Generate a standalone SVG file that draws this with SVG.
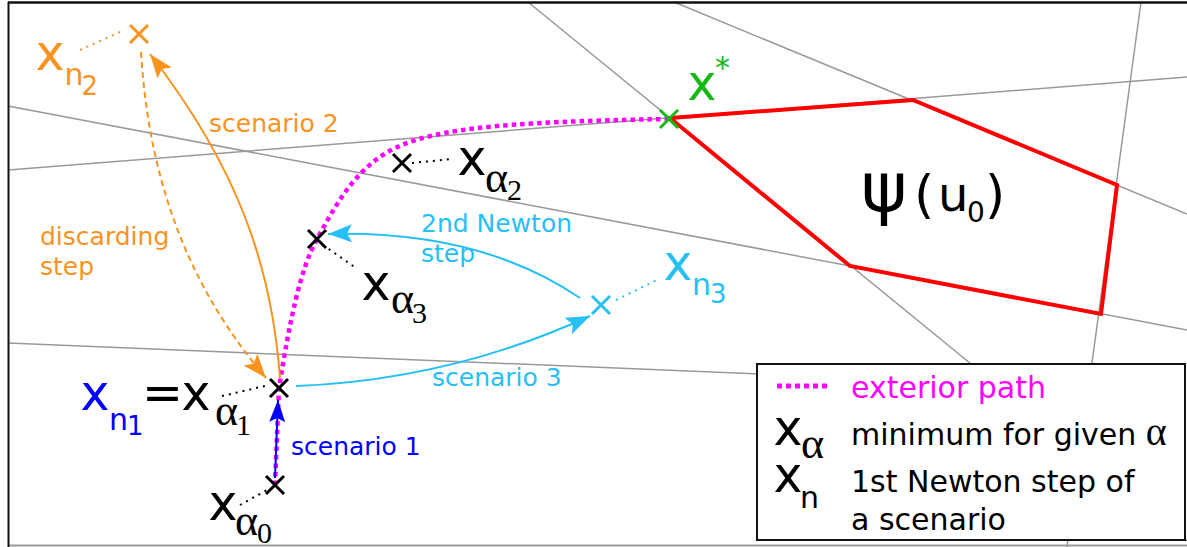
<svg xmlns="http://www.w3.org/2000/svg" width="1187" height="547" viewBox="0 0 1187 547">
<style>
.g{stroke:#999;stroke-width:1.5;fill:none}
.t{font-family:"DejaVu Sans",sans-serif}
.s{font-family:"Liberation Serif","DejaVu Serif",serif}
.big{font-size:49px}
.sub{font-size:30px}
.ssub{font-size:26px}
.al{font-size:44px}
.lab{font-size:25px}
.leg{font-size:30px}
.cr{stroke-width:3;fill:none}
.lead{stroke-width:2;stroke-dasharray:2 5;fill:none}
</style>
<defs>
<marker id="ao" markerUnits="userSpaceOnUse" markerWidth="26" markerHeight="20" refX="24" refY="9" orient="auto"><path d="M0,0 L24,9 L0,18 L5,9 Z" fill="#f7931e"/></marker>
<marker id="ac" markerUnits="userSpaceOnUse" markerWidth="26" markerHeight="20" refX="24" refY="9" orient="auto"><path d="M0,0 L24,9 L0,18 L5,9 Z" fill="#27c0f4"/></marker>
<marker id="ab" markerUnits="userSpaceOnUse" markerWidth="24" markerHeight="18" refX="22" refY="8" orient="auto"><path d="M0,0 L22,8 L0,16 L4,8 Z" fill="#0000ff"/></marker>
</defs>
<rect width="1187" height="547" fill="#fff"/>
<g id="grid">
<line class="g" x1="528" y1="2" x2="1195" y2="547"/>
<line class="g" x1="674" y1="2" x2="1187" y2="214"/>
<line class="g" x1="1141" y1="2" x2="1067" y2="547"/>
<line class="g" x1="8" y1="170" x2="1187" y2="77"/>
<line class="g" x1="8" y1="106" x2="1187" y2="330"/>
<line class="g" x1="8" y1="343" x2="760" y2="374"/>
<line x1="8" y1="545.5" x2="1187" y2="545.5" stroke="#999" stroke-width="2"/>
<line x1="8" y1="2.5" x2="1187" y2="2.5" stroke="#111" stroke-width="2.5"/>
<line x1="8.5" y1="2" x2="8.5" y2="547" stroke="#111" stroke-width="2"/>
</g>
<g id="psi">
<polygon points="670,118 913,100 1117,185 1101,314 850,266" fill="none" stroke="#ff0000" stroke-width="4"/>
<text class="t" x="861" y="212" font-size="70">ψ</text>
<text class="t" x="914" y="212" font-size="52">(</text>
<text class="t" x="938" y="211" font-size="48">u</text>
<text class="t" x="967" y="222" font-size="28">0</text>
<text class="t" x="985" y="212" font-size="52">)</text>
</g>
<g id="connectors">
<path d="M275,485 L279,388 C290,320 300,270 317,239 C334,208 351,177 380,157 C420,128 500,122 669,119" fill="none" stroke="#ff00ff" stroke-width="4.5" stroke-dasharray="4.5 4"/>
<path d="M280,378 C272,270 240,170 150,54" fill="none" stroke="#f7931e" stroke-width="2" marker-end="url(#ao)"/>
<path d="M141,52 C150,200 200,300 266,378" fill="none" stroke="#f7931e" stroke-width="2" stroke-dasharray="6 4" marker-end="url(#ao)"/>
<path d="M275,478 L278,400" fill="none" stroke="#0000ff" stroke-width="2" marker-end="url(#ab)"/>
<path d="M296,386 Q450,380 590,316" fill="none" stroke="#27c0f4" stroke-width="2" marker-end="url(#ac)"/>
<path d="M580,298 Q480,230 328,234" fill="none" stroke="#27c0f4" stroke-width="2" marker-end="url(#ac)"/>
<line class="lead" x1="80" y1="50" x2="120" y2="32" stroke="#f7931e"/>
<line class="lead" x1="616" y1="300" x2="657" y2="280" stroke="#27c0f4"/>
<line class="lead" x1="412" y1="163" x2="452" y2="159" stroke="#000"/>
<line class="lead" x1="323" y1="245" x2="356" y2="268" stroke="#000"/>
<line class="lead" x1="222" y1="396" x2="269" y2="385" stroke="#000"/>
<line class="lead" x1="240" y1="505" x2="267" y2="490" stroke="#000"/>
</g>
<g id="labels">
<text class="t lab" x="209" y="132" fill="#f7931e">scenario 2</text>
<text class="t lab" x="40" y="245" fill="#f7931e">discarding</text>
<text class="t lab" x="40" y="275" fill="#f7931e">step</text>
<text class="t lab" x="291" y="455" fill="#0000ff">scenario 1</text>
<text class="t lab" x="421" y="232" fill="#27c0f4">2nd Newton</text>
<text class="t lab" x="421" y="262" fill="#27c0f4">step</text>
<text class="t lab" x="432" y="386" fill="#27c0f4">scenario 3</text>
</g>
<g id="x-n2">
<path class="cr" d="M130,25 L148,43 M148,25 L130,43" stroke="#f7931e" stroke-width="3.5"/>
<text class="t big" x="35.5" y="70" fill="#f7931e">x</text>
<text class="t sub" x="64.5" y="85" fill="#f7931e">n</text>
<text class="t ssub" x="81.5" y="95" fill="#f7931e">2</text>
</g>
<g id="x-star">
<path class="cr" d="M660,110 L678,128 M678,110 L660,128" stroke="#11bb11"/>
<text class="t big" x="687.5" y="100" fill="#11bb11">x</text>
<text class="t" x="715" y="78" font-size="30" fill="#11bb11">*</text>
</g>
<g id="x-alpha2">
<path class="cr" d="M393,154 L411,172 M411,154 L393,172" stroke="#000"/>
<text class="t big" x="457.5" y="175">x</text>
<text class="s al" x="485" y="192">α</text>
<text class="s" x="507" y="200" font-size="30">2</text>
</g>
<g id="x-alpha3">
<path class="cr" d="M308,230 L326,248 M326,230 L308,248" stroke="#000"/>
<text class="t big" x="361.5" y="300">x</text>
<text class="s al" x="391" y="313">α</text>
<text class="s" x="412" y="323" font-size="30">3</text>
</g>
<g id="x-alpha1">
<path class="cr" d="M270,379 L288,397 M288,379 L270,397" stroke="#000"/>
<text class="t big" x="80.5" y="410" fill="#0000ff">x</text>
<text class="t sub" x="109" y="430" fill="#0000ff">n</text>
<text class="t ssub" x="127" y="435" fill="#0000ff">1</text>
<text class="t big" x="142" y="410">=</text>
<text class="t big" x="181.5" y="410">x</text>
<text class="s al" x="215" y="425">α</text>
<text class="s" x="236" y="435" font-size="30">1</text>
</g>
<g id="x-alpha0">
<path class="cr" d="M266,476 L284,494 M284,476 L266,494" stroke="#000"/>
<text class="t big" x="208.5" y="520">x</text>
<text class="s al" x="235" y="535">α</text>
<text class="s" x="257" y="543" font-size="30">0</text>
</g>
<g id="x-n3">
<path class="cr" d="M592,296 L610,314 M610,296 L592,314" stroke="#27c0f4" stroke-width="3.5"/>
<text class="t big" x="663.5" y="280" fill="#27c0f4">x</text>
<text class="t sub" x="692" y="295" fill="#27c0f4">n</text>
<text class="t ssub" x="710" y="303" fill="#27c0f4">3</text>
</g>
<g id="legend">
<rect x="757" y="364" width="428" height="176" fill="#fff" stroke="#111" stroke-width="2"/>
<line x1="777" y1="386" x2="829" y2="386" stroke="#ff00ff" stroke-width="5" stroke-dasharray="5 4"/>
<text class="t leg" x="851" y="398" fill="#ff00ff">exterior path</text>
<text class="t big" x="773.5" y="445">x</text>
<text class="s al" x="801" y="458">α</text>
<text class="t leg" x="851" y="445">minimum for given <tspan class="s" font-size="40">α</tspan></text>
<text class="t big" x="773.5" y="492">x</text>
<text class="t sub" x="800" y="508">n</text>
<text class="t leg" x="851" y="492">1st Newton step of</text>
<text class="t leg" x="851" y="530">a scenario</text>
</g>
</svg>
